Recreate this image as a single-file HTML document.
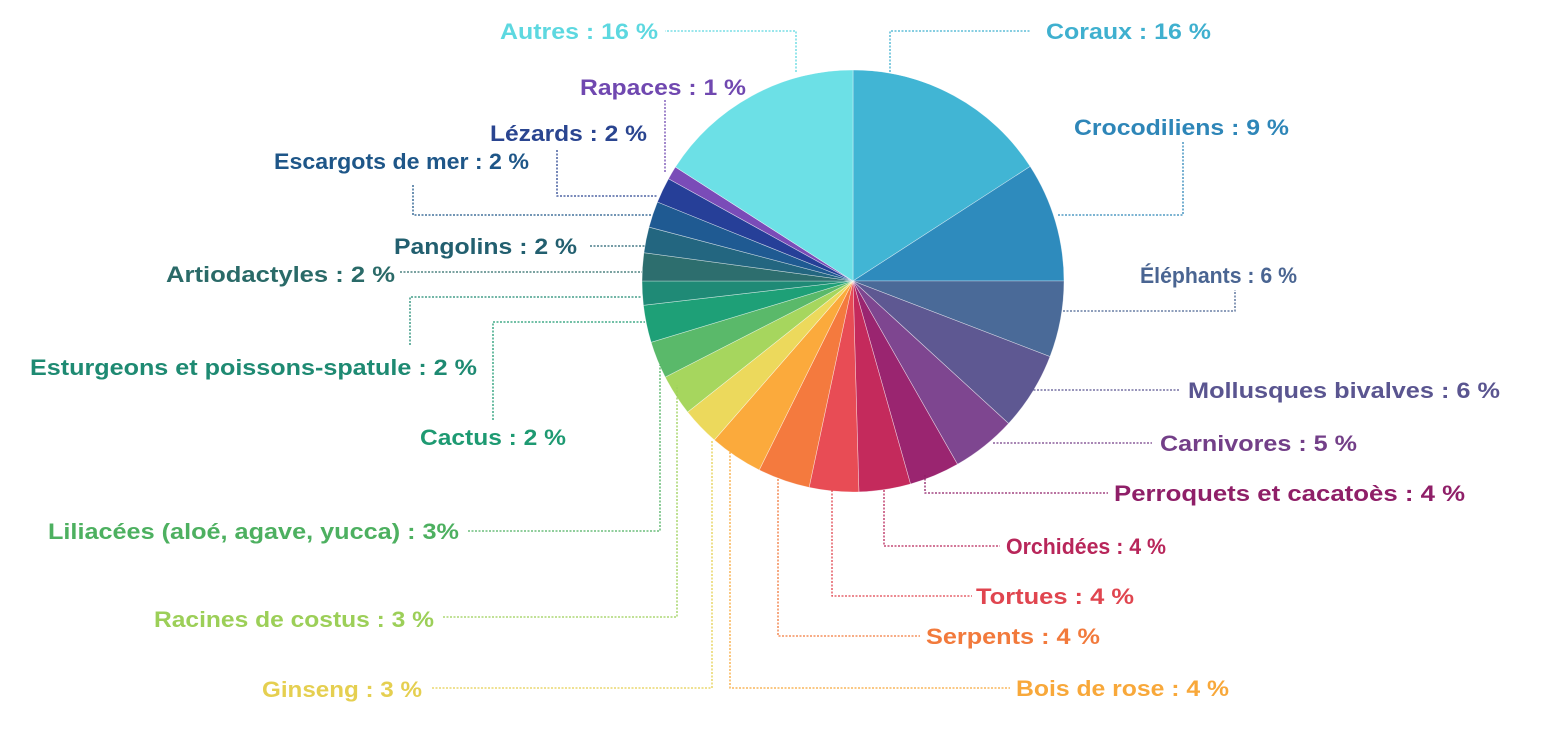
<!DOCTYPE html>
<html><head><meta charset="utf-8"><style>
html,body{margin:0;padding:0;background:#fff;}
svg{display:block;}
text{font-family:"Liberation Sans",sans-serif;font-weight:bold;font-size:22px;}
</style></head><body>
<svg id="s" width="1552" height="734" viewBox="0 0 1552 734">
<g id="pie"></g>
<g fill="none" stroke-width="1.3" stroke-dasharray="2 1.5">
<polyline points="890,72 890,31 1030,31" stroke="#3fb0cf"/>
<polyline points="1058,215 1183,215 1183,142" stroke="#2e86b8"/>
<polyline points="1063,311 1235,311 1235,290" stroke="#4a6592"/>
<polyline points="1030,390 1180,390" stroke="#5a5590"/>
<polyline points="993,443 1152,443" stroke="#733f88"/>
<polyline points="925,475 925,493 1108,493" stroke="#8f1f68"/>
<polyline points="884,490 884,546 1000,546" stroke="#b8265a"/>
<polyline points="832,490 832,596 972,596" stroke="#e0454f"/>
<polyline points="778,472 778,636 920,636" stroke="#f27a3c"/>
<polyline points="730,452 730,688 1010,688" stroke="#f8a83a"/>
<polyline points="796,72 796,31 665,31" stroke="#5dd8e0"/>
<polyline points="665,100 665,172" stroke="#7048b0"/>
<polyline points="557,150 557,196 658,196" stroke="#2a4590"/>
<polyline points="413,185 413,215 652,215" stroke="#1e5688"/>
<polyline points="590,246 646,246" stroke="#225f6f"/>
<polyline points="400,272 642,272" stroke="#2a6a68"/>
<polyline points="410,345 410,297 642,297" stroke="#1e8a72"/>
<polyline points="493,420 493,322 645,322" stroke="#1e9a72"/>
<polyline points="468,531 660,531 660,365" stroke="#4db060"/>
<polyline points="443,617 677,617 677,385" stroke="#9ccf58"/>
<polyline points="432,688 712,688 712,440" stroke="#e5cf50"/>
</g>
<g>
<text x="1046" y="39" fill="#3fb0cf" textLength="165" lengthAdjust="spacingAndGlyphs">Coraux : 16 %</text>
<text x="1074" y="135" fill="#2e86b8" textLength="215" lengthAdjust="spacingAndGlyphs">Crocodiliens : 9 %</text>
<text x="1140" y="283" fill="#4a6592" textLength="157" lengthAdjust="spacingAndGlyphs">Éléphants : 6 %</text>
<text x="1188" y="398" fill="#5a5590" textLength="312" lengthAdjust="spacingAndGlyphs">Mollusques bivalves : 6 %</text>
<text x="1160" y="451" fill="#733f88" textLength="197" lengthAdjust="spacingAndGlyphs">Carnivores : 5 %</text>
<text x="1114" y="501" fill="#8f1f68" textLength="351" lengthAdjust="spacingAndGlyphs">Perroquets et cacatoès : 4 %</text>
<text x="1006" y="554" fill="#b8265a" textLength="160" lengthAdjust="spacingAndGlyphs">Orchidées : 4 %</text>
<text x="976" y="604" fill="#e0454f" textLength="158" lengthAdjust="spacingAndGlyphs">Tortues : 4 %</text>
<text x="926" y="644" fill="#f27a3c" textLength="174" lengthAdjust="spacingAndGlyphs">Serpents : 4 %</text>
<text x="1016" y="696" fill="#f8a83a" textLength="213" lengthAdjust="spacingAndGlyphs">Bois de rose : 4 %</text>
<text x="500" y="39" fill="#5dd8e0" textLength="158" lengthAdjust="spacingAndGlyphs">Autres : 16 %</text>
<text x="580" y="95" fill="#7048b0" textLength="166" lengthAdjust="spacingAndGlyphs">Rapaces : 1 %</text>
<text x="490" y="141" fill="#2a4590" textLength="157" lengthAdjust="spacingAndGlyphs">Lézards : 2 %</text>
<text x="274" y="169" fill="#1e5688" textLength="255" lengthAdjust="spacingAndGlyphs">Escargots de mer : 2 %</text>
<text x="394" y="254" fill="#225f6f" textLength="183" lengthAdjust="spacingAndGlyphs">Pangolins : 2 %</text>
<text x="166" y="282" fill="#2a6a68" textLength="229" lengthAdjust="spacingAndGlyphs">Artiodactyles : 2 %</text>
<text x="30" y="375" fill="#1e8a72" textLength="447" lengthAdjust="spacingAndGlyphs">Esturgeons et poissons-spatule : 2 %</text>
<text x="420" y="445" fill="#1e9a72" textLength="146" lengthAdjust="spacingAndGlyphs">Cactus : 2 %</text>
<text x="48" y="539" fill="#4db060" textLength="411" lengthAdjust="spacingAndGlyphs">Liliacées (aloé, agave, yucca) : 3%</text>
<text x="154" y="627" fill="#9ccf58" textLength="280" lengthAdjust="spacingAndGlyphs">Racines de costus : 3 %</text>
<text x="262" y="697" fill="#e5cf50" textLength="160" lengthAdjust="spacingAndGlyphs">Ginseng : 3 %</text>
</g>
</svg>
<script>
var cx=853,cy=281,r=211;
var ends=[57.1,90,111,132.5,150.3,164.2,178.4,192,206.4,221.1,231.6,242.9,253.1,263.4,270,277.7,284.8,292,299,302.7,360];
var cols=["#41b5d4","#2e8bbd","#4a6a98","#5e5892","#7e4690","#9a2570","#c42a5c","#e84c55","#f47a3e","#fbaa3c","#ecd95c","#a6d65e","#5ab96a","#1ea077","#1f8a76","#2d6e6e","#236680","#1f5a92","#263f98","#7a4cb8","#6ce0e6"];
function pt(a){var t=a*Math.PI/180;return [cx+r*Math.sin(t),cy-r*Math.cos(t)];}
var g=document.getElementById("pie"),h="",s=0;
for(var i=0;i<ends.length;i++){var e=ends[i],p=pt(s),q=pt(e),l=(e-s)>180?1:0;
h+='<path d="M'+cx+','+cy+' L'+p[0].toFixed(1)+','+p[1].toFixed(1)+' A'+r+','+r+' 0 '+l+' 1 '+q[0].toFixed(1)+','+q[1].toFixed(1)+' Z" fill="'+cols[i]+'" stroke="#fff" stroke-width="0.6" stroke-opacity="0.6"/>';s=e;}
g.innerHTML=h;
</script>
</body></html>
